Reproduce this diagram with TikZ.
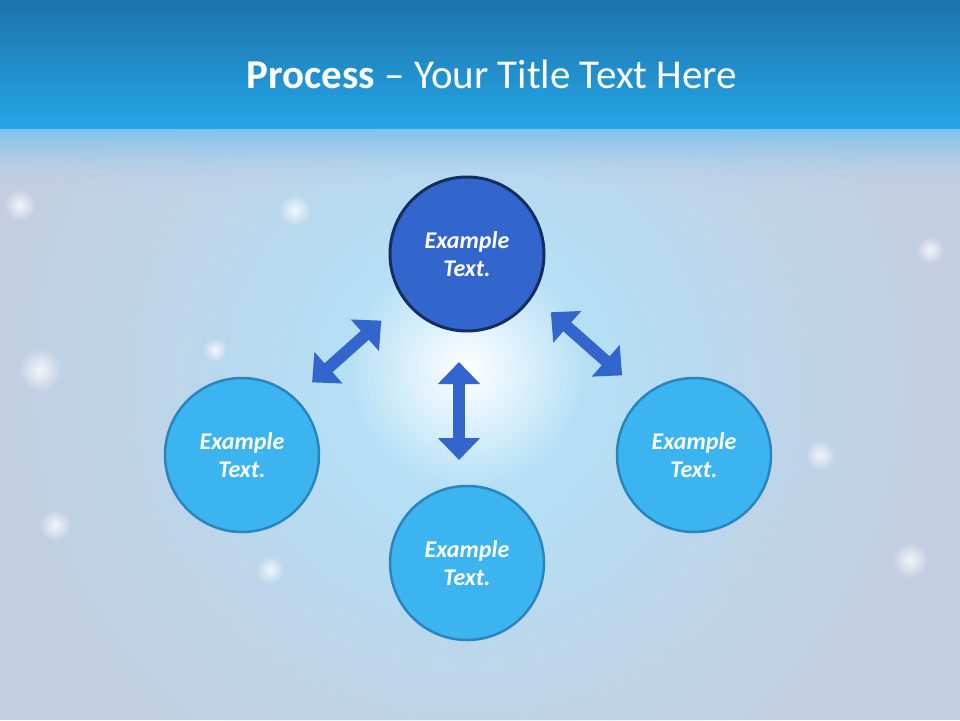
\documentclass[tikz,border=0pt]{standalone}
\usepackage{fontspec}
\setmainfont{Carlito}
\usepackage{tikz}
\usetikzlibrary{arrows.meta,calc,positioning,fadings}
\definecolor{baslikUst}{HTML}{1E72AA}
\definecolor{baslikAlt}{HTML}{25A6E6}
\definecolor{zeminGri}{HTML}{C3CEE2}
\definecolor{parlakMavi}{HTML}{B4E2F8}
\definecolor{seritMavi}{HTML}{7CC2F0}
\definecolor{koyuMavi}{HTML}{3366CC}
\definecolor{lacivert}{HTML}{152E62}
\definecolor{acikMavi}{HTML}{3CB4EF}
\definecolor{kenarMavi}{HTML}{2A85BF}
\tikzfading[name=yumusak,inner color=transparent!0,outer color=transparent!100]
\begin{document}
\begin{tikzpicture}[x=1pt,y=-1pt,
  every node/.style={font=\fontsize{24}{28}\selectfont\bfseries\itshape,text=white,align=center},
  ana/.style={circle,draw=lacivert,fill=koyuMavi,line width=3pt,minimum size=154pt,inner sep=0pt},
  adim/.style={circle,draw=kenarMavi,fill=acikMavi,line width=2.5pt,minimum size=154pt,inner sep=0pt},
  cift/.style={draw=koyuMavi,line width=12pt,{Triangle[length=22pt,width=41pt]}-{Triangle[length=22pt,width=41pt]}}]
\useasboundingbox (0,0) rectangle (960,720);
% zemin
\fill[zeminGri] (0,0) rectangle (960,720);
\begin{scope}
\clip (0,128) rectangle (960,720);
\fill[parlakMavi,path fading=yumusak] (467,380) circle (480pt);
\fill[parlakMavi,path fading=yumusak] (467,380) circle (280pt);
\fill[white,path fading=yumusak] (467,370) circle (120pt);
\foreach \x/\y/\r in {40/370/22,55/525/16,20/205/16,295/210/16,910/560/18,820/455/15,270/570/14,215/350/12,930/250/14}
  \fill[white,opacity=0.8,path fading=yumusak] (\x,\y) circle (\r pt);
\shade[top color=seritMavi,bottom color=zeminGri,path fading=south] (-20,128) rectangle (980,190);
\end{scope}
\shade[top color=baslikUst,bottom color=baslikAlt] (0,0) rectangle (960,128);
\node[font=\fontsize{41}{49}\selectfont,anchor=base] (baslik) at (492,88) {\textbf{Process} -- Your Title Text Here};
% daireler
\node[ana] (ust) at (467,254) {Example\\Text.};
\node[adim] (sol) at (242,455) {Example\\Text.};
\node[adim] (sag) at (694,455) {Example\\Text.};
\node[adim] (alt) at (467,563) {Example\\Text.};
% oklar
\draw[cift,shorten <=115pt,shorten >=94pt] ([yshift=10pt]ust.center) -- ([yshift=10pt]sol.center);
\draw[cift,shorten <=112pt,shorten >=96pt] ([yshift=16pt]ust.center) -- ([yshift=16pt]sag.center);
\draw[cift,shorten <=108pt,shorten >=103pt] ([xshift=-8pt]ust.center) -- ([xshift=-8pt]alt.center);
\end{tikzpicture}
\end{document}
